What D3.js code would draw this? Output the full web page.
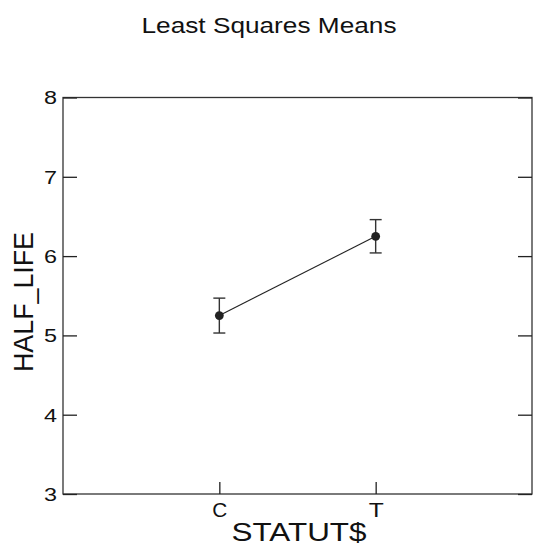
<!DOCTYPE html>
<html>
<head>
<meta charset="utf-8">
<script src="https://cdn.jsdelivr.net/npm/d3@7"></script>
<style>
  html, body { margin: 0; padding: 0; background: #fff; }
  svg { display: block; }
  text { font-family: "Liberation Sans", Arial, Helvetica, sans-serif; fill: #111; }
</style>
</head>
<body>
<svg id="chart" width="533" height="547"></svg>
<script>
// Least squares means of HALF_LIFE by STATUT$, with standard-error bars
const categories = ["C", "T"];
const means = [5.25, 6.25];
const stdErrors = [0.22, 0.21];
const yTicks = [3, 4, 5, 6, 7, 8];

const plot = { left: 63, right: 532, top: 97.5, bottom: 494 };

const svg = d3.select("#chart");

const x = d3.scalePoint()
  .domain(categories)
  .range([plot.left, plot.right])
  .padding(1);

const y = d3.scaleLinear()
  .domain([3, 8])
  .range([plot.bottom, plot.top]);

// frame
svg.append("rect")
  .attr("x", plot.left)
  .attr("y", plot.top)
  .attr("width", plot.right - plot.left)
  .attr("height", plot.bottom - plot.top)
  .attr("fill", "none")
  .attr("stroke", "#333")
  .attr("stroke-width", 1.3);

const tickLen = 14;

// left axis: inward ticks, labels outside
const leftAxis = d3.axisLeft(y)
  .tickValues(yTicks)
  .tickSize(-tickLen)
  .tickPadding(6)
  .tickFormat(d3.format("d"));
const gl = svg.append("g")
  .attr("transform", `translate(${plot.left},0)`)
  .call(leftAxis);
gl.select(".domain").remove();
gl.selectAll(".tick line").attr("stroke", "#222").attr("stroke-width", 1.3);
gl.selectAll(".tick text")
  .attr("font-size", 18)
  .attr("fill", "#111")
  .attr("dy", "0.36em")
  .attr("textLength", 13)
  .attr("lengthAdjust", "spacingAndGlyphs");

// right axis: inward ticks, no labels
const rightAxis = d3.axisRight(y)
  .tickValues(yTicks)
  .tickSize(-tickLen)
  .tickFormat("");
const gr = svg.append("g")
  .attr("transform", `translate(${plot.right},0)`)
  .call(rightAxis);
gr.select(".domain").remove();
gr.selectAll(".tick line").attr("stroke", "#222").attr("stroke-width", 1.3);

// bottom axis: inward ticks at category positions
const bottomAxis = d3.axisBottom(x)
  .tickSize(-12)
  .tickPadding(9);
const gb = svg.append("g")
  .attr("transform", `translate(0,${plot.bottom})`)
  .call(bottomAxis);
gb.select(".domain").remove();
gb.selectAll(".tick line").attr("stroke", "#222").attr("stroke-width", 1.3);
gb.selectAll(".tick text")
  .attr("font-size", 20)
  .attr("fill", "#111")
  .attr("dy", "0.71em")
  .attr("textLength", 15)
  .attr("lengthAdjust", "spacingAndGlyphs");

const rows = categories.map((c, i) => ({ c, m: means[i], se: stdErrors[i] }));

// connecting line between means
svg.append("path")
  .datum(rows)
  .attr("fill", "none")
  .attr("stroke", "#222")
  .attr("stroke-width", 1.1)
  .attr("d", d3.line().x(d => x(d.c)).y(d => y(d.m)));

// error bars
const capHalf = 6;
const eb = svg.append("g").selectAll("g").data(rows).join("g")
  .attr("stroke", "#333")
  .attr("stroke-width", 1.4);
eb.append("line")
  .attr("x1", d => x(d.c)).attr("x2", d => x(d.c))
  .attr("y1", d => y(d.m + d.se)).attr("y2", d => y(d.m - d.se));
eb.append("line")
  .attr("x1", d => x(d.c) - capHalf).attr("x2", d => x(d.c) + capHalf)
  .attr("y1", d => y(d.m + d.se)).attr("y2", d => y(d.m + d.se));
eb.append("line")
  .attr("x1", d => x(d.c) - capHalf).attr("x2", d => x(d.c) + capHalf)
  .attr("y1", d => y(d.m - d.se)).attr("y2", d => y(d.m - d.se));

// mean markers
svg.append("g").selectAll("circle").data(rows).join("circle")
  .attr("cx", d => x(d.c))
  .attr("cy", d => y(d.m))
  .attr("r", 4.4)
  .attr("fill", "#222");

// title
svg.append("text")
  .attr("x", 269)
  .attr("y", 33.3)
  .attr("text-anchor", "middle")
  .attr("font-size", 22)
  .attr("textLength", 255)
  .attr("lengthAdjust", "spacingAndGlyphs")
  .text("Least Squares Means");

// axis titles
svg.append("text")
  .attr("x", 299)
  .attr("y", 541)
  .attr("text-anchor", "middle")
  .attr("font-size", 26)
  .attr("textLength", 135)
  .attr("lengthAdjust", "spacingAndGlyphs")
  .text("STATUT$");

svg.append("text")
  .attr("transform", "translate(33.3,302) rotate(-90)")
  .attr("text-anchor", "middle")
  .attr("font-size", 28)
  .attr("textLength", 140)
  .attr("lengthAdjust", "spacingAndGlyphs")
  .text("HALF_LIFE");
</script>
</body>
</html>
